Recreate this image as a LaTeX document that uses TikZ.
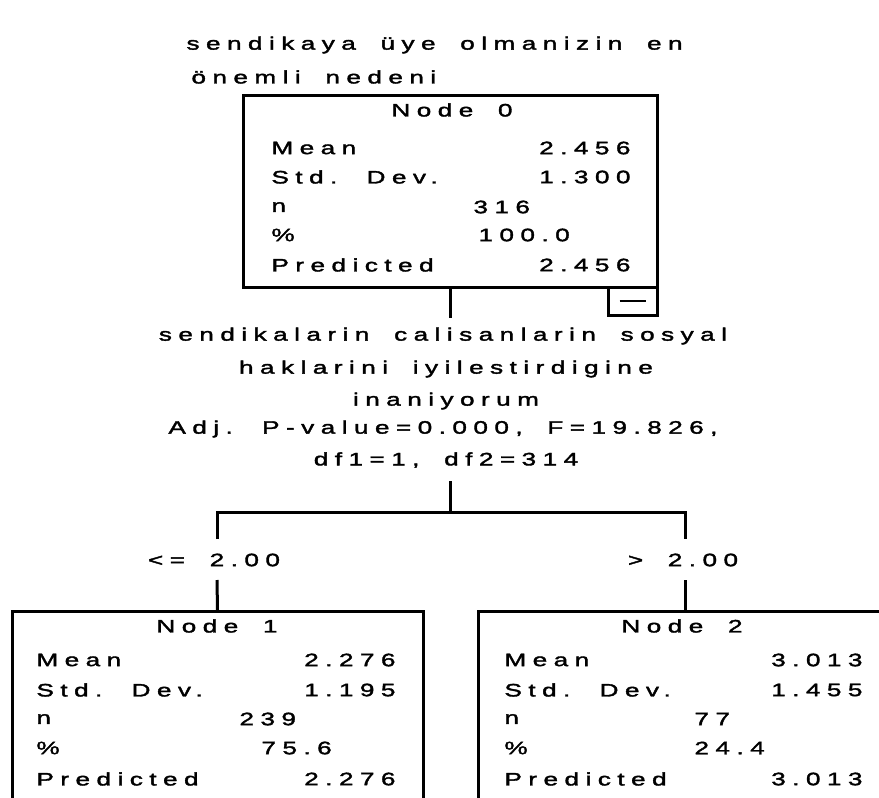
\documentclass[tikz,border=0pt]{standalone}
\usepackage{fontspec}
\setmainfont{Liberation Sans}[FakeStretch=1.45,LetterSpace=36,WordSpace=1.8,FakeBold=2]
\begin{document}
\begin{tikzpicture}[x=1pt,y=-1pt,line width=3pt,
  txt/.style={inner sep=0pt,font=\fontsize{18}{20}\selectfont},
  lt/.style={txt,anchor=west},
  rt/.style={txt,anchor=east},
  box/.style={draw,line width=3pt,inner sep=0pt}]
\useasboundingbox (0,0) rectangle (879,798);
\clip (0,0) rectangle (879,798);
% title
\node[lt] (t1) at (185,45) {sendikaya üye olmanizin en};
\node[lt] (t2) at (190,77) {önemli nedeni};
% node 0
\node[box,minimum width=414pt,minimum height=192pt] (n0) at (450,191) {};
\node[box,minimum width=49pt,minimum height=28pt] (mb) at (632.5,301) {};
\draw[line width=2pt] (mb.center)++(-13,0) -- ++(26,0);
\node[txt] (n0t) at (452,110) {Node 0};
\node[lt] (n0a) at (270,148) {Mean};
\node[lt] (n0b) at (270,177) {Std. Dev.};
\node[lt] (n0c) at (270,207) {n};
\node[lt] (n0d) at (270,235) {\%};
\node[lt] (n0e) at (270,265) {Predicted};
\node[rt] (n0av) at (632,148) {2.456};
\node[rt] (n0bv) at (632,177) {1.300};
\node[lt] (n0cv) at (472,207) {316};
\node[lt] (n0dv) at (477,235) {100.0};
\node[rt] (n0ev) at (632,265) {2.456};
% split text
\node[txt] (s1) at (443,336) {sendikalarin calisanlarin sosyal};
\node[txt] (s2) at (446,369) {haklarini iyilestirdigine};
\node[txt] (s3) at (446,401) {inaniyorum};
\node[txt] (s4) at (443,429) {Adj. P-value=0.000, F=19.826,};
\node[txt] (s5) at (446,460) {df1=1, df2=314};
\coordinate (j0) at (450,318);
\coordinate (j1) at (450,481);
\coordinate (j2) at (450,512);
\coordinate (l1) at (217,512);
\coordinate (l2) at (217,539);
\coordinate (l3) at (217,580);
\coordinate (r1) at (685,512);
\coordinate (r2) at (685,539);
\coordinate (r3) at (685,580);
\draw (n0.south) -- (j0);
\draw (j1) -- (j2);
\draw (l2) -- (l1) -- (r1) -- (r2);
\node[txt] (lab1) at (214,560) {<= 2.00};
\node[txt] (lab2) at (683,560) {> 2.00};
% node 1
\node[box,minimum width=411pt,minimum height=240pt,anchor=north] (n1) at (217.5,610) {};
\draw (l3) -- (n1.north);
\node[txt] (n1t) at (217,626) {Node 1};
\node[lt] (n1a) at (35,660) {Mean};
\node[lt] (n1b) at (35,690) {Std. Dev.};
\node[lt] (n1c) at (35,719) {n};
\node[lt] (n1d) at (35,748) {\%};
\node[lt] (n1e) at (35,779) {Predicted};
\node[rt] (n1av) at (397,660) {2.276};
\node[rt] (n1bv) at (397,690) {1.195};
\node[lt] (n1cv) at (238,719) {239};
\node[lt] (n1dv) at (260,748) {75.6};
\node[rt] (n1ev) at (397,779) {2.276};
% node 2
\node[box,minimum width=414pt,minimum height=240pt,anchor=north] (n2) at (685,610) {};
\draw (r3) -- (n2.north);
\node[txt] (n2t) at (682,626) {Node 2};
\node[lt] (n2a) at (503,660) {Mean};
\node[lt] (n2b) at (503,690) {Std. Dev.};
\node[lt] (n2c) at (503,719) {n};
\node[lt] (n2d) at (503,748) {\%};
\node[lt] (n2e) at (503,779) {Predicted};
\node[rt] (n2av) at (864,660) {3.013};
\node[rt] (n2bv) at (864,690) {1.455};
\node[lt] (n2cv) at (693,719) {77};
\node[lt] (n2dv) at (693,748) {24.4};
\node[rt] (n2ev) at (864,779) {3.013};
\end{tikzpicture}
\end{document}
